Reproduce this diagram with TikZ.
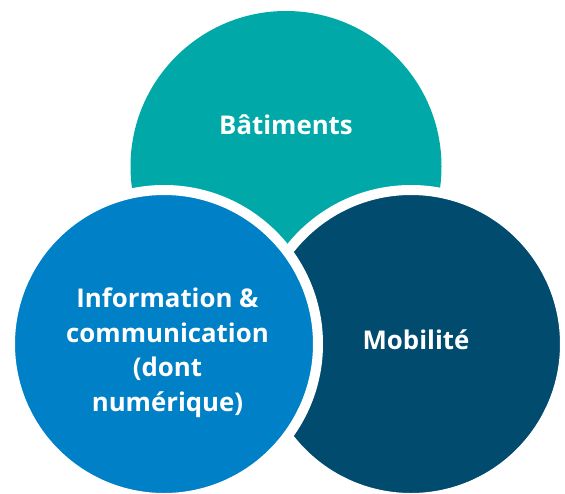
\documentclass[tikz,border=0pt]{standalone}
\usepackage{fontspec}
\setmainfont{Open Sans}[BoldFont={* Bold}]
\definecolor{tealc}{RGB}{0,168,168}
\definecolor{bluec}{RGB}{0,128,198}
\definecolor{navyc}{RGB}{1,75,110}
\begin{document}
\begin{tikzpicture}[x=1pt,y=-1pt,
  disc/.style={circle, inner sep=0pt, outer sep=0pt, draw=white, line width=10pt, minimum size=308pt},
  lbl/.style={text=white, font=\bfseries\fontsize{25.8}{34.5}\selectfont, align=center, anchor=base, inner sep=0pt}]
\useasboundingbox[fill=white] (0,0) rectangle (565,493);
\node[circle, inner sep=0pt, minimum size=311pt, fill=tealc] (top) at (286,166.5) {};
\node[disc, fill=navyc] (right) at (411,344) {};
\node[disc, fill=bluec] (left) at (164,344) {};
\node[lbl] (tl) at (286,134.5) {Bâtiments};
\node[lbl] (rl) at (416,349.5) {Mobilité};
\node[lbl] (ll) at (167.5,411) {Information \&\\communication\\(dont\\numérique)};
\end{tikzpicture}
\end{document}
